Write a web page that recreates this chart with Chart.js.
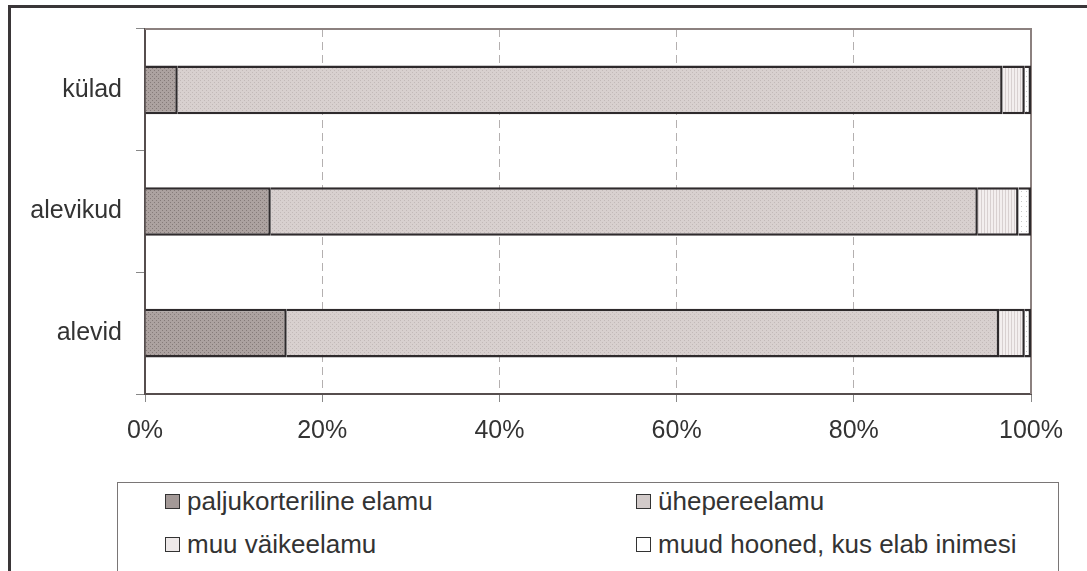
<!DOCTYPE html>
<html>
<head>
<meta charset="utf-8">
<script src="https://cdn.jsdelivr.net/npm/chart.js@4.4.1/dist/chart.umd.min.js"></script>
<style>
  body { margin: 0; background: #fff; font-family: "Liberation Sans", Arial, sans-serif; color: #333; }
  #frame { position: absolute; left: 8px; top: 5px; width: 1100px; height: 620px; border: 3px solid #3a3638; }
  #chart { position: absolute; left: 0; top: 0; }
  #legend { position: absolute; left: 117px; top: 482px; width: 940px; height: 130px; border: 1px solid #7a7676; background: #fff; }
  .item { position: absolute; font-size: 26px; line-height: 30px; white-space: nowrap; }
  .item span.sq { display: inline-block; width: 13px; height: 13px; border: 1px solid #333; margin-right: 7px; vertical-align: 1px; }
</style>
</head>
<body>
<div id="frame"></div>
<canvas id="chart" width="1087" height="460"></canvas>
<div id="legend"></div>
<script>
var categories = ['külad', 'alevikud', 'alevid'];
var seriesNames = ['paljukorteriline elamu', 'ühepereelamu', 'muu väikeelamu', 'muud hooned, kus elab inimesi'];
var paljukorteriline = [3.7, 14.2, 16.0];
var uhepere = [93.1, 79.8, 80.4];
var muuVaike = [2.5, 4.6, 2.9];
var muudHooned = [0.7, 1.4, 0.7];
var xTicks = [0, 20, 40, 60, 80, 100];

// small textures like the original hatch fills
function makePattern(bg, fg, step, kind) {
  var c = document.createElement('canvas');
  c.width = step; c.height = step;
  var g = c.getContext('2d');
  g.fillStyle = bg; g.fillRect(0, 0, step, step);
  g.fillStyle = fg;
  if (kind === 'dots') { g.fillRect(0, 0, 1, 1); g.fillRect(2, 2, 1, 1); }
  if (kind === 'vline') { g.fillRect(0, 0, 1, step); }
  if (kind === 'sparse') { g.fillRect(1, 1, 1, 1); }
  return g.createPattern(c, 'repeat');
}
var ctx = document.getElementById('chart').getContext('2d');
var fills = [
  makePattern('#aca2a0', '#857b79', 4, 'dots'),
  makePattern('#d8d0cf', '#c2b9b8', 4, 'dots'),
  makePattern('#f3eeee', '#d8d0d0', 3, 'vline'),
  makePattern('#ffffff', '#c8c8c8', 5, 'sparse')
];
var legendColors = ['#a39997', '#d2cac9', '#eee9e9', '#ffffff'];

var allData = [paljukorteriline, uhepere, muuVaike, muudHooned];
var datasets = allData.map(function (d, i) {
  return {
    label: seriesNames[i],
    data: d,
    backgroundColor: fills[i],
    borderColor: '#2e2a2c',
    borderWidth: 2.5,
    barPercentage: 0.4,
    categoryPercentage: 1
  };
});

var plotFrame = {
  id: 'plotFrame',
  beforeDatasetsDraw: function (chart) {
    var a = chart.chartArea, c = chart.ctx;
    c.save();
    c.strokeStyle = '#8c817f';
    c.lineWidth = 2;
    c.beginPath();
    c.moveTo(a.left, a.top);
    c.lineTo(a.right, a.top);
    c.lineTo(a.right, a.bottom);
    c.stroke();
    c.restore();
  }
};

new Chart(ctx, {
  type: 'bar',
  data: { labels: categories, datasets: datasets },
  options: {
    indexAxis: 'y',
    responsive: false,
    animation: false,
    layout: { padding: { left: 0, top: 25, right: 56, bottom: 0 } },
    plugins: { legend: { display: false }, tooltip: { enabled: false } },
    scales: {
      x: {
        stacked: true,
        min: 0, max: 100,
        afterFit: function (s) { s.height = 66; },
        afterBuildTicks: function (s) { s.ticks = xTicks.map(function (v) { return { value: v }; }); },
        ticks: {
          color: '#333',
          padding: 14,
          font: { family: 'Liberation Sans', size: 25 },
          callback: function (v) { return v + '%'; }
        },
        grid: {
          color: function (c) { return (c.index === 0 || c.index === 5) ? 'rgba(0,0,0,0)' : '#b4b0b0'; },
          tickColor: '#888',
          tickLength: 8,
          lineWidth: 1
        },
        border: { color: '#564e4e', width: 2, dash: [8, 5] }
      },
      y: {
        stacked: true,
        afterFit: function (s) { s.width = 145; },
        ticks: {
          color: '#333',
          padding: 14,
          font: { family: 'Liberation Sans', size: 25 }
        },
        grid: {
          offset: true,
          drawOnChartArea: false,
          tickColor: '#888',
          tickLength: 9
        },
        border: { color: '#564e4e', width: 2 }
      }
    }
  },
  plugins: [plotFrame]
});

// legend in two columns, like the original box
var legendPos = [[47, 3], [518, 3], [47, 46], [518, 46]];
var lg = document.getElementById('legend');
seriesNames.forEach(function (name, i) {
  var el = document.createElement('div');
  el.className = 'item';
  el.style.left = legendPos[i][0] + 'px';
  el.style.top = legendPos[i][1] + 'px';
  el.innerHTML = '<span class="sq" style="background:' + legendColors[i] + '"></span>' + name;
  lg.appendChild(el);
});
</script>
</body>
</html>
